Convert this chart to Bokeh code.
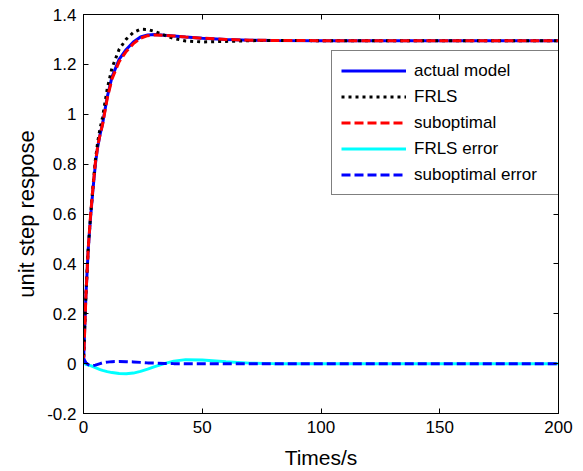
from bokeh.plotting import figure
from bokeh.models import FixedTicker, LinearAxis, Range1d, Legend, LegendItem
from bokeh.embed import file_html
from bokeh.resources import INLINE

# ---- data ----
t = [0, 0.5, 1, 2, 3, 4, 5, 6, 7, 8, 10, 12, 15, 18, 21, 24, 27, 30, 34, 38, 43, 50, 60, 70, 80, 100, 150, 200]
actual = [0, 0.14, 0.27, 0.46, 0.59, 0.70, 0.80, 0.87, 0.92, 0.96, 1.07, 1.15, 1.22, 1.26, 1.29, 1.31, 1.318, 1.32,
          1.317, 1.314, 1.310, 1.305, 1.300, 1.297, 1.296, 1.295, 1.295, 1.295]
frls = [0, 0.14, 0.273, 0.466, 0.598, 0.712, 0.816, 0.89, 0.944, 0.987, 1.102, 1.186, 1.26, 1.301, 1.328, 1.341,
        1.34, 1.332, 1.317, 1.304, 1.294, 1.29, 1.292, 1.295, 1.296, 1.295, 1.295, 1.295]
subopt = [0, 0.13, 0.266, 0.464, 0.598, 0.708, 0.806, 0.873, 0.92, 0.957, 1.064, 1.142, 1.211, 1.252, 1.283, 1.305,
          1.315, 1.318, 1.316, 1.314, 1.31, 1.305, 1.30, 1.297, 1.296, 1.295, 1.295, 1.295]
frls_err = [0.008, 0.002, -0.003, -0.006, -0.008, -0.012, -0.016, -0.020, -0.024, -0.027, -0.032, -0.036, -0.040,
            -0.041, -0.038, -0.031, -0.022, -0.012, 0.0, 0.010, 0.016, 0.015, 0.008, 0.002, 0.0, 0.0, 0.0, 0.0]
sub_err = [0.02, 0.012, 0.004, -0.004, -0.008, -0.008, -0.006, -0.003, 0.0, 0.003, 0.006, 0.008, 0.009, 0.008,
           0.007, 0.005, 0.003, 0.002, 0.001, 0.0, 0, 0, 0, 0, 0, 0, 0, 0]

x_ticks = [0, 50, 100, 150, 200]
y_ticks = [-0.2, 0, 0.2, 0.4, 0.6, 0.8, 1.0, 1.2, 1.4]
y_tick_labels = ["-0.2", "0", "0.2", "0.4", "0.6", "0.8", "1", "1.2", "1.4"]

FONT = "Liberation Sans"

p = figure(width=583, height=471, output_backend="svg", toolbar_location=None,
           x_range=Range1d(0, 200), y_range=Range1d(-0.2, 1.4),
           min_border_left=83, min_border_right=25, min_border_top=14, min_border_bottom=58,
           background_fill_color="white", border_fill_color="white")
p.grid.visible = False
p.outline_line_color = "black"
p.outline_line_width = 1

def style_axis(ax, labels=True):
    ax.axis_line_color = "black"
    ax.major_tick_line_color = "black"
    ax.major_tick_in = 5
    ax.major_tick_out = 0
    ax.minor_tick_line_color = None
    ax.major_label_text_font = FONT
    ax.major_label_text_color = "black"
    ax.major_label_text_font_size = "17px"
    if labels:
        ax.major_label_standoff = 7
    else:
        ax.major_label_standoff = 0

p.xaxis.ticker = FixedTicker(ticks=x_ticks)
p.yaxis.ticker = FixedTicker(ticks=y_ticks)
p.yaxis.major_label_overrides = {v: s for v, s in zip(y_ticks, y_tick_labels)}
style_axis(p.xaxis[0])
style_axis(p.yaxis[0])
p.xaxis.axis_label = "Times/s"
p.yaxis.axis_label = "unit step respose"
for ax in (p.xaxis[0], p.yaxis[0]):
    ax.axis_label_text_font = FONT
    ax.axis_label_text_font_style = "normal"
    ax.axis_label_text_color = "black"
p.xaxis.axis_label_text_font_size = "21px"
p.yaxis.axis_label_text_font_size = "22px"
p.xaxis.axis_label_standoff = 10
p.yaxis.axis_label_standoff = 5

top = LinearAxis(ticker=FixedTicker(ticks=x_ticks),
                 major_label_overrides={v: "" for v in x_ticks})
style_axis(top, labels=False)
p.add_layout(top, "above")
right = LinearAxis(ticker=FixedTicker(ticks=y_ticks),
                   major_label_overrides={v: "" for v in y_ticks})
style_axis(right, labels=False)
p.add_layout(right, "right")

r1 = p.line(t, actual, line_color="#0000ff", line_width=3)
r2 = p.line(t, frls, line_color="black", line_width=3, line_dash="3 4")
r3 = p.line(t, subopt, line_color="#ff0000", line_width=3, line_dash="9 4")
r4 = p.line(t, frls_err, line_color="#00ffff", line_width=3)
r5 = p.line(t, sub_err, line_color="#0000ff", line_width=3, line_dash="9 4")

legend = Legend(items=[
    LegendItem(label="actual model", renderers=[r1]),
    LegendItem(label="FRLS", renderers=[r2]),
    LegendItem(label="suboptimal", renderers=[r3]),
    LegendItem(label="FRLS error", renderers=[r4]),
    LegendItem(label="suboptimal error", renderers=[r5]),
], location=(248, 218))
legend.label_text_font = FONT
legend.label_text_font_size = "17px"
legend.label_text_color = "black"
legend.glyph_width = 65
legend.glyph_height = 21
legend.label_height = 21
legend.label_width = 135
legend.label_standoff = 8
legend.spacing = 5
legend.padding = 9
legend.margin = 0
legend.border_line_color = "black"
legend.border_line_width = 1
legend.background_fill_color = "white"
legend.background_fill_alpha = 1
p.add_layout(legend)

open("out.html", "w").write(file_html(p, INLINE))
